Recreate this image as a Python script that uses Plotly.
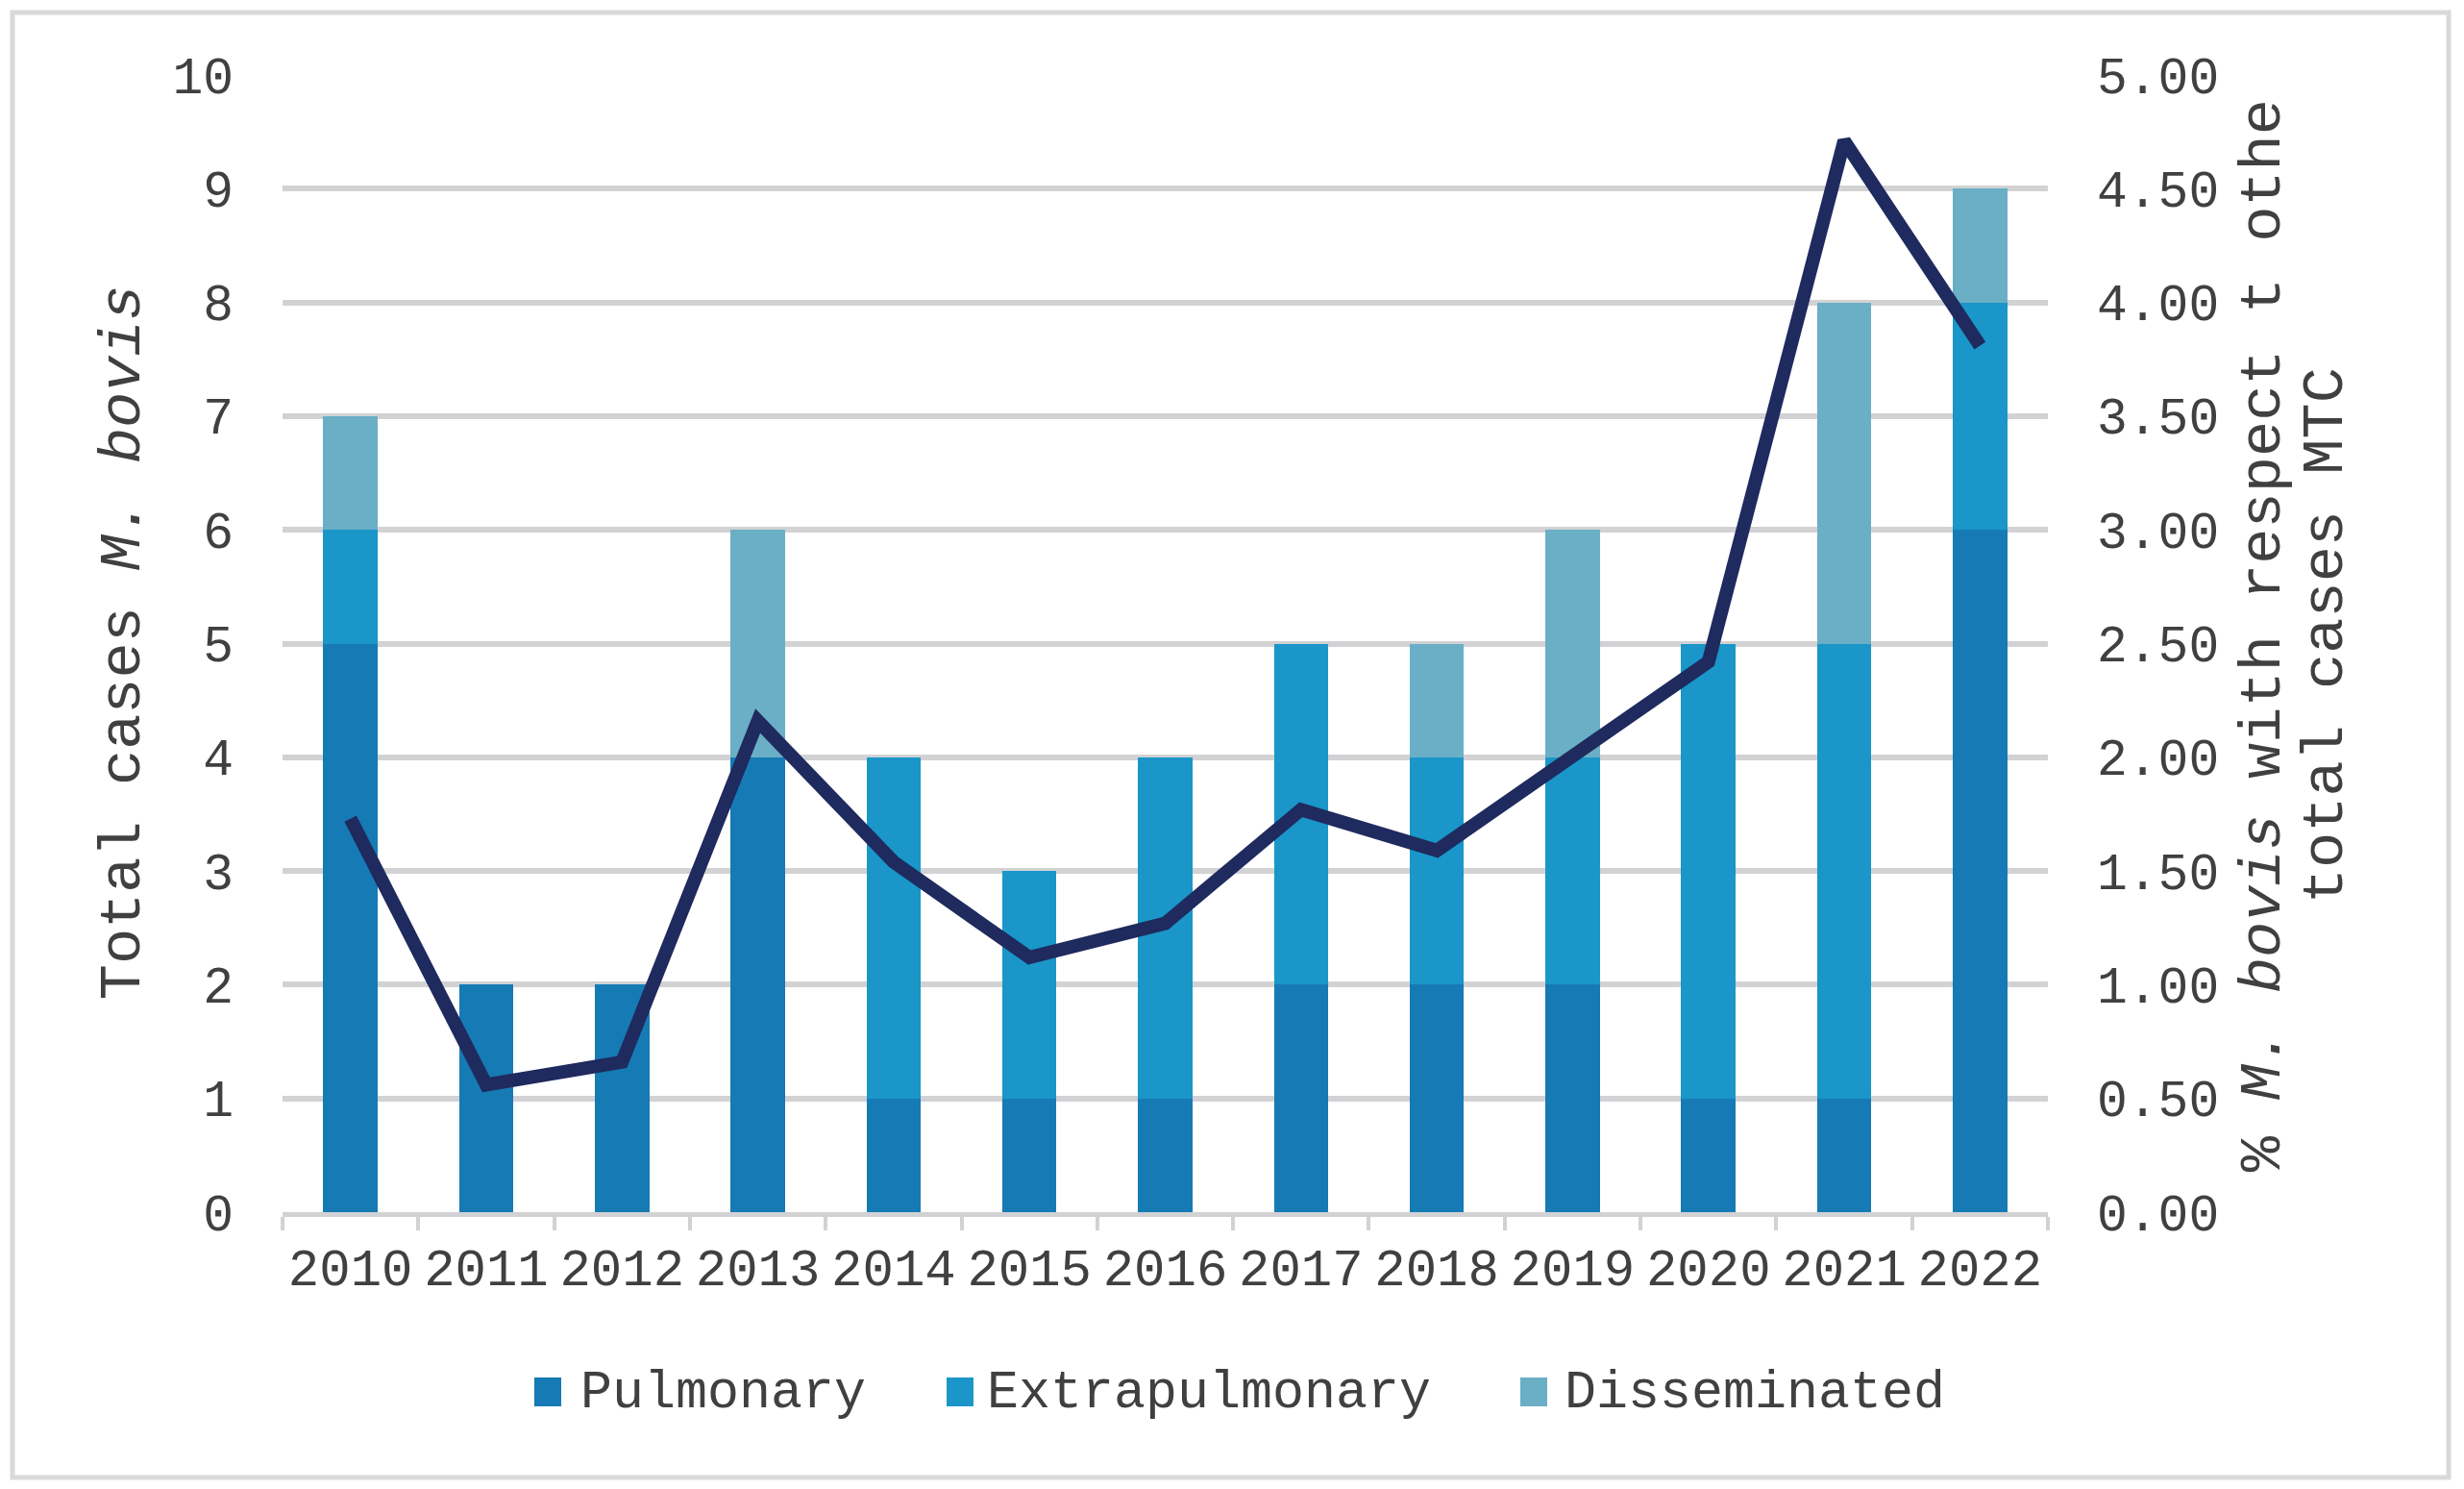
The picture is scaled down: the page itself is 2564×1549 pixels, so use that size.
import plotly.graph_objects as go

years = ["2010", "2011", "2012", "2013", "2014", "2015", "2016",
         "2017", "2018", "2019", "2020", "2021", "2022"]
pulmonary = [5, 2, 2, 4, 1, 1, 1, 2, 2, 2, 1, 1, 6]
extrapulmonary = [1, 0, 0, 0, 3, 2, 3, 3, 2, 2, 4, 4, 2]
disseminated = [1, 0, 0, 2, 0, 0, 0, 0, 1, 2, 0, 3, 1]
pct_mtc = [1.73, 0.56, 0.66, 2.16, 1.54, 1.12, 1.27, 1.77, 1.59, 2.00, 2.42, 4.71, 3.81]

series_names = ["Pulmonary", "Extrapulmonary", "Disseminated"]
series_colors = ["#167AB5", "#1A96C8", "#6AAFC5"]

FONT = "Liberation Mono, Courier New, monospace"
TXT = "#404040"
GRID = "#D2D2D5"

# plot area in page pixels (page has an 8px body margin)
PL, PR, PT, PB = 294, 2131, 78, 1261
PW, PH = PR - PL, PB - PT


def px_x(X):
    return (X - PL) / PW


def px_y(Y):
    return (PB - Y) / PH


fig = go.Figure()
for name, vals, col in zip(series_names, [pulmonary, extrapulmonary, disseminated], series_colors):
    fig.add_trace(go.Bar(x=years, y=vals, name=name, showlegend=False,
                         marker=dict(color=col, line=dict(width=0)), width=0.4))
fig.add_trace(go.Scatter(x=years, y=pct_mtc, yaxis="y2", mode="lines",
                         line=dict(color="#1F2A5E", width=14), showlegend=False))

fig.update_layout(
    width=2548, height=1533,
    barmode="stack",
    plot_bgcolor="white", paper_bgcolor="white",
    margin=dict(l=PL - 8, r=2556 - PR, t=PT - 8, b=1541 - PB),
    font=dict(family=FONT, size=52, color=TXT),
    xaxis=dict(
        type="category", tickson="boundaries", ticks="outside", ticklen=14,
        tickwidth=4, tickcolor=GRID, showline=True, linecolor=GRID, linewidth=5,
        showgrid=False, tickangle=0, tickfont=dict(size=54, color=TXT), ticklabelstandoff=6,
    ),
    yaxis=dict(
        range=[0, 10], dtick=1, showgrid=True, gridcolor=GRID, gridwidth=6,
        zeroline=False, showline=False, ticks="", ticklabelstandoff=50,
        tickfont=dict(size=53, color=TXT),
    ),
    yaxis2=dict(
        range=[0, 5], dtick=0.5, tickformat=".2f", overlaying="y", side="right",
        showgrid=False, zeroline=False, showline=False, ticks="",
        ticklabelstandoff=50, tickfont=dict(size=53, color=TXT),
    ),
    showlegend=False,
)

# axis titles
fig.add_annotation(
    text="Total cases <i>M. bovis</i>", textangle=-90, xref="paper", yref="paper",
    x=px_x(128), y=0.501, xanchor="center", yanchor="middle", showarrow=False,
    font=dict(family=FONT, size=62, color=TXT),
)
fig.add_annotation(
    text="% <i>M. bovis</i> with respect t othe", textangle=-90, xref="paper", yref="paper",
    x=px_x(2355), y=0.507, xanchor="center", yanchor="middle", showarrow=False,
    font=dict(family=FONT, size=62, color=TXT),
)
fig.add_annotation(
    text="total cases MTC", textangle=-90, xref="paper", yref="paper",
    x=px_x(2420), y=0.507, xanchor="center", yanchor="middle", showarrow=False,
    font=dict(family=FONT, size=62, color=TXT),
)

# legend (squares + labels)
legend_square_x = [556, 985, 1582]
legend_text_x = [602, 1025, 1626]
for name, col, sx, tx in zip(series_names, series_colors, legend_square_x, legend_text_x):
    fig.add_shape(type="rect", xref="paper", yref="paper",
                  x0=px_x(sx), x1=px_x(sx + 28), y0=px_y(1463), y1=px_y(1433),
                  line=dict(width=0), fillcolor=col)
    fig.add_annotation(text=name, xref="paper", yref="paper", x=px_x(tx), y=px_y(1449),
                       xanchor="left", yanchor="middle", showarrow=False,
                       font=dict(family=FONT, size=55, color=TXT))

# outer border
fig.add_shape(
    type="rect", xref="paper", yref="paper",
    x0=px_x(13), x1=px_x(2548), y0=px_y(1537), y1=px_y(13),
    line=dict(color="#D9D9D9", width=5), fillcolor="rgba(0,0,0,0)", layer="below",
)

fig.write_html("out.html")
